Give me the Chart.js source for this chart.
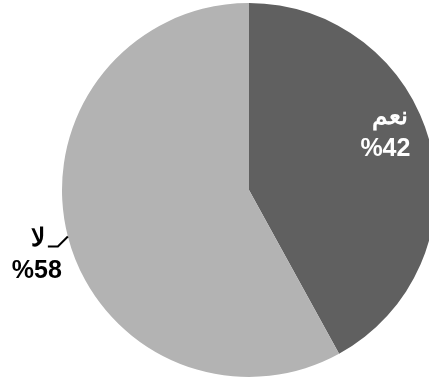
<!DOCTYPE html>
<html>
<head>
<meta charset="utf-8">
<script src="https://cdn.jsdelivr.net/npm/chart.js@4/dist/chart.umd.min.js"></script>
<style>
  html, body { margin: 0; padding: 0; background: #fff; }
  #wrap { width: 429px; height: 379px; }
</style>
</head>
<body>
<div id="wrap"><canvas id="myChart" width="429" height="379"></canvas></div>
<script>
// chart data
const categories = ["نعم", "لا"];
const values = [42, 58];
const valueLabels = ["%42", "%58"];
const colors = ["#606060", "#b3b3b3"];

// draws the slice labels and the leader line for the outside one
const labelPlugin = {
  id: "sliceLabels",
  afterDraw(chart) {
    const ctx = chart.ctx;
    const arcs = chart.getDatasetMeta(0).data;
    ctx.save();
    ctx.font = "bold 25px 'Liberation Sans', Arial, sans-serif";
    ctx.textAlign = "center";
    ctx.textBaseline = "alphabetic";

    // inside label (first slice)
    const a0 = arcs[0];
    const mid0 = (a0.startAngle + a0.endAngle) / 2;
    const lx0 = a0.x + Math.cos(mid0) * a0.outerRadius * 0.72 + 6;
    const ly0 = a0.y + Math.sin(mid0) * a0.outerRadius * 0.72 - 20;
    ctx.fillStyle = "#ffffff";
    ctx.fillText(categories[0], lx0 + 5, ly0 - 13);
    ctx.fillText(valueLabels[0], lx0, ly0 + 19);

    // outside label (second slice) with leader line
    const a1 = arcs[1];
    const mid1 = (a1.startAngle + a1.endAngle) / 2;
    const ex = a1.x + Math.cos(mid1) * a1.outerRadius;
    const ey = a1.y + Math.sin(mid1) * a1.outerRadius;
    ctx.strokeStyle = "#000000";
    ctx.lineWidth = 2;
    ctx.beginPath();
    ctx.moveTo(ex, ey);
    ctx.lineTo(ex - 10, ey + 10);
    ctx.lineTo(ex - 20, ey + 10);
    ctx.stroke();
    ctx.fillStyle = "#000000";
    ctx.fillText(categories[1], ex - 30, ey + 9);
    ctx.fillText(valueLabels[1], ex - 31, ey + 41);
    ctx.restore();
  }
};

const c = document.getElementById("myChart").getContext("2d");
const myChart = new Chart(c, {
  type: "pie",
  data: {
    labels: categories,
    datasets: [{
      data: values,
      backgroundColor: colors,
      borderWidth: 0,
      radius: 187
    }]
  },
  options: {
    responsive: false,
    animation: false,
    layout: { padding: { left: 69, right: 0, top: 1, bottom: 0 } },
    plugins: {
      legend: { display: false },
      tooltip: { enabled: false }
    }
  },
  plugins: [labelPlugin]
});
</script>
</body>
</html>
